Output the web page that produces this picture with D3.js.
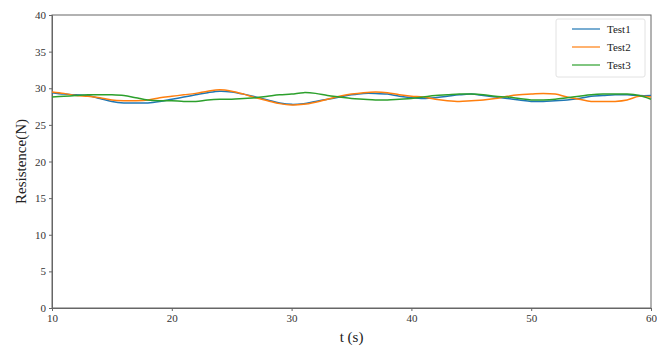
<!DOCTYPE html>
<html>
<head>
<meta charset="utf-8">
<script src="https://cdn.jsdelivr.net/npm/d3@7"></script>
<style>
  html, body { margin: 0; padding: 0; background: #fff; }
  svg { display: block; }
  svg text { font-family: "Liberation Serif", "Times New Roman", serif !important; fill: #222; }
</style>
</head>
<body>
<svg id="chart" width="657" height="347"></svg>
<script>
// Time axis (seconds) and measured resistance for three test runs
const times = d3.range(10, 61, 1);
const test1 = [29.4, 29.2, 29.1, 29.0, 28.6, 28.2, 28.0, 28.0, 28.0, 28.2,
  28.5, 28.8, 29.1, 29.4, 29.6, 29.5, 29.2, 28.8, 28.4, 28.0,
  27.8, 27.9, 28.2, 28.5, 28.8, 29.1, 29.3, 29.3, 29.2, 28.9,
  28.7, 28.6, 28.7, 28.9, 29.1, 29.2, 29.0, 28.8, 28.6, 28.4,
  28.2, 28.2, 28.3, 28.4, 28.6, 28.9, 29.0, 29.1, 29.1, 29.0, 29.0];
const test2 = [29.5, 29.3, 29.0, 28.9, 28.7, 28.4, 28.3, 28.3, 28.4, 28.7,
  28.9, 29.1, 29.3, 29.6, 29.8, 29.6, 29.2, 28.7, 28.3, 27.9,
  27.7, 27.8, 28.1, 28.5, 28.9, 29.2, 29.4, 29.5, 29.4, 29.1,
  28.9, 28.8, 28.5, 28.3, 28.2, 28.3, 28.4, 28.6, 28.9, 29.1,
  29.2, 29.3, 29.2, 28.8, 28.5, 28.2, 28.2, 28.2, 28.4, 28.9, 28.8];
const test3 = [28.8, 28.9, 29.0, 29.1, 29.1, 29.1, 29.0, 28.7, 28.4, 28.3,
  28.3, 28.2, 28.2, 28.4, 28.5, 28.5, 28.6, 28.7, 28.9, 29.1,
  29.2, 29.4, 29.3, 29.0, 28.8, 28.6, 28.5, 28.4, 28.4, 28.5,
  28.6, 28.8, 29.0, 29.1, 29.2, 29.2, 29.1, 28.9, 28.8, 28.6,
  28.4, 28.4, 28.5, 28.7, 28.9, 29.1, 29.2, 29.2, 29.2, 29.0, 28.5];
const seriesNames = ["Test1", "Test2", "Test3"];
const seriesColors = ["#1f77b4", "#ff7f0e", "#2ca02c"];
const xTicks = [10, 20, 30, 40, 50, 60];
const yTicks = [0, 5, 10, 15, 20, 25, 30, 35, 40];

const svg = d3.select("#chart");
const m = { left: 52, right: 6, top: 15, bottom: 39 };
const W = 657, H = 347;

const x = d3.scaleLinear().domain([10, 60]).range([m.left, W - m.right]);
const y = d3.scaleLinear().domain([0, 40]).range([H - m.bottom, m.top]);

// frame
svg.append("rect")
  .attr("x", m.left).attr("y", m.top)
  .attr("width", W - m.right - m.left).attr("height", H - m.bottom - m.top)
  .attr("fill", "none").attr("stroke", "#666").attr("stroke-width", 1);

// axes
const xAxis = svg.append("g")
  .attr("transform", `translate(0,${H - m.bottom})`)
  .call(d3.axisBottom(x).tickValues(xTicks).tickSize(3).tickPadding(3));
const yAxis = svg.append("g")
  .attr("transform", `translate(${m.left},0)`)
  .call(d3.axisLeft(y).tickValues(yTicks).tickSize(3).tickPadding(3));
[xAxis, yAxis].forEach(g => {
  g.attr("font-family", null);
  g.select(".domain").attr("stroke", "#666");
  g.selectAll(".tick line").attr("stroke", "#666");
  g.selectAll("text")
    .attr("font-size", 11)
    .style("font-family", "'Liberation Serif', serif")
    .style("fill", "#333");
});

// series lines
const line = d3.line()
  .x((d, i) => x(times[i]))
  .y(d => y(d))
  .curve(d3.curveCatmullRom);

const allSeries = [test1, test2, test3];
allSeries.forEach((vals, k) => {
  svg.append("path")
    .datum(vals)
    .attr("d", line)
    .attr("fill", "none")
    .attr("stroke", seriesColors[k])
    .attr("stroke-width", 1.5);
});

// axis titles
svg.append("text")
  .attr("x", (m.left + W - m.right) / 2).attr("y", 342)
  .attr("text-anchor", "middle").attr("font-size", 15)
  .text("t (s)");
svg.append("text")
  .attr("transform", `translate(26,${(m.top + H - m.bottom) / 2}) rotate(-90)`)
  .attr("text-anchor", "middle").attr("font-size", 15)
  .text("Resistence(N)");

// legend
const lg = svg.append("g");
lg.append("rect")
  .attr("x", 556).attr("y", 19).attr("width", 89).attr("height", 58)
  .attr("rx", 2).attr("fill", "#fff").attr("stroke", "#e2e2e2");
seriesNames.forEach((name, i) => {
  const yy = 29 + i * 18;
  lg.append("line")
    .attr("x1", 572).attr("x2", 600).attr("y1", yy).attr("y2", yy)
    .attr("stroke", seriesColors[i]).attr("stroke-width", 1.2);
  lg.append("text")
    .attr("x", 607).attr("y", yy + 4).attr("font-size", 11)
    .text(name);
});
</script>
</body>
</html>
